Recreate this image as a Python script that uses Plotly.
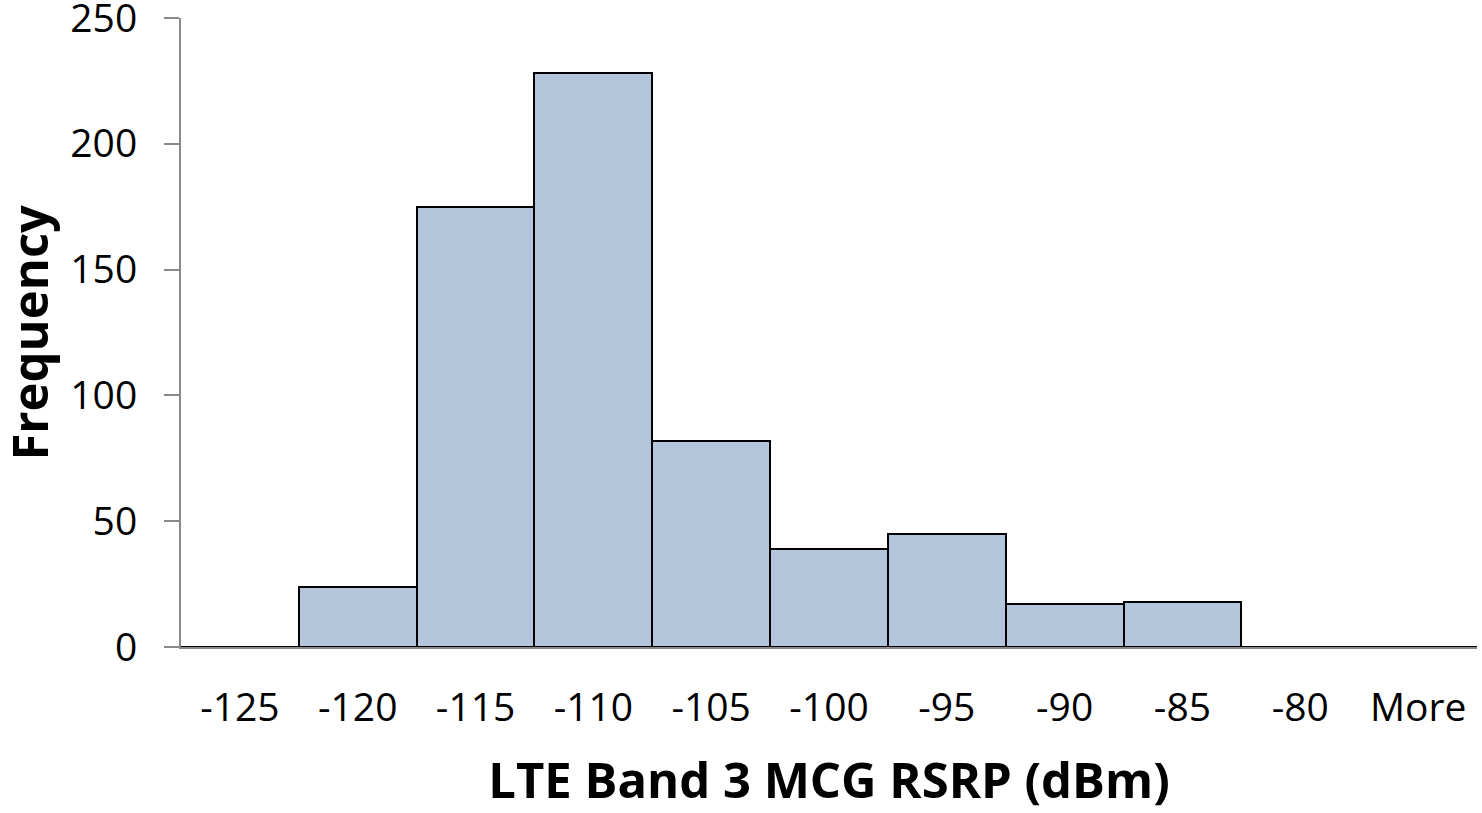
import plotly.graph_objects as go

categories = ["-125", "-120", "-115", "-110", "-105", "-100", "-95", "-90", "-85", "-80", "More"]
frequency = [0, 24, 175, 228, 82, 39, 45, 17, 18, 0, 0]
y_ticks = [0, 50, 100, 150, 200, 250]

FONT = "Open Sans"

fig = go.Figure(
    go.Bar(
        x=categories,
        y=frequency,
        marker=dict(color="#B4C6DC", line=dict(color="black", width=2)),
    )
)

fig.update_layout(
    width=1482,
    height=813,
    margin=dict(l=181, r=5, t=18, b=166),
    paper_bgcolor="white",
    plot_bgcolor="white",
    bargap=0,
    showlegend=False,
    font=dict(family=FONT, color="black"),
    annotations=[
        dict(
            text="<b>Frequency</b>",
            textangle=-90,
            xref="paper",
            yref="paper",
            x=-0.118,
            y=0.5,
            xanchor="center",
            yanchor="middle",
            showarrow=False,
            font=dict(family=FONT, size=49, color="black"),
        )
    ],
)

fig.update_xaxes(
    type="category",
    automargin=False,
    showline=True,
    linecolor="#898989",
    linewidth=2,
    ticks="",
    showgrid=False,
    tickfont=dict(family=FONT, size=39, color="black"),
    ticklabelstandoff=25,
    title=dict(
        text="<b>LTE Band 3 MCG RSRP (dBm)</b>",
        font=dict(family=FONT, size=49, color="black"),
        standoff=33,
    ),
)

fig.update_yaxes(
    range=[0, 250],
    tickvals=y_ticks,
    automargin=False,
    showline=True,
    linecolor="#898989",
    linewidth=2,
    ticks="outside",
    ticklen=15,
    tickwidth=2,
    tickcolor="#898989",
    showgrid=False,
    zeroline=False,
    tickfont=dict(family=FONT, size=39, color="black"),
    ticklabelstandoff=19,
    ticklabeloverflow="allow",
)

fig.write_html(
    "out.html",
    config={"displayModeBar": False},
    post_script="document.body.style.margin='0';",
)
